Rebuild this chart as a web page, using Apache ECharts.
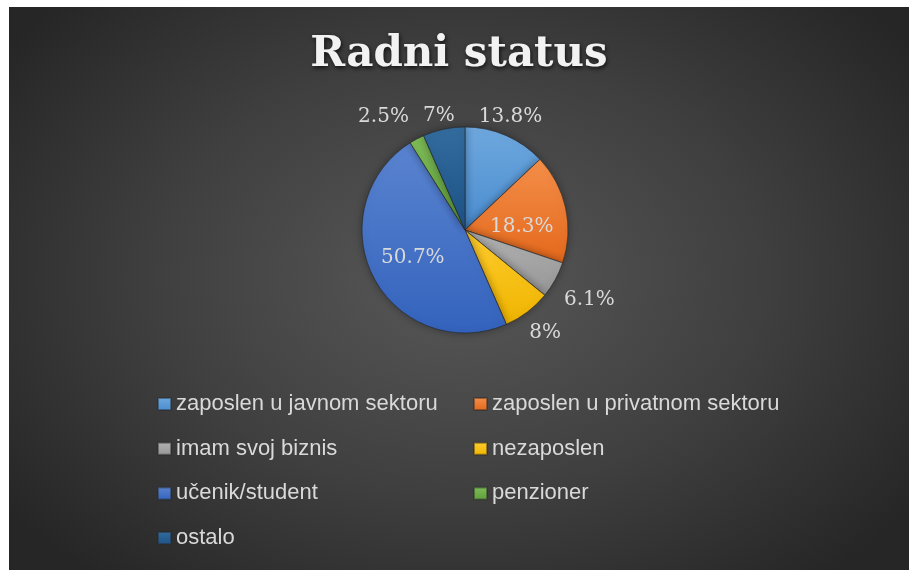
<!DOCTYPE html>
<html>
<head>
<meta charset="utf-8">
<script src="https://cdn.jsdelivr.net/npm/echarts@6/dist/echarts.min.js"></script>
<style>
  html, body { margin: 0; padding: 0; background: #ffffff; }
  #chart {
    position: absolute; left: 9px; top: 7px; width: 900px; height: 563px;
    background: radial-gradient(ellipse 62% 70% at 50% 48%, #585858 0%, #3f3f3f 55%, #262626 100%);
  }
</style>
</head>
<body>
<div id="chart"></div>
<script>
const titleText = 'Radni status';
const categories = [
  'zaposlen u javnom sektoru',
  'zaposlen u privatnom sektoru',
  'imam svoj biznis',
  'nezaposlen',
  'učenik/student',
  'penzioner',
  'ostalo'
];
const values = [13.8, 18.3, 6.1, 8, 50.7, 2.5, 7];

// styling (not data)
const sliceTop = ['#6ea8de', '#f48f4a', '#b3b3b3', '#ffcd2e', '#5a84d0', '#7fbd58', '#336c9e'];
const sliceBottom = ['#4a8ccf', '#e4681c', '#959595', '#efb400', '#3463bd', '#5f9e3a', '#1d5287'];
const insideIdx = [1, 4];
const labelNudge = [[-9, 2], [3.5, 8], [10, 9], [-0.5, 3], [-4, 2], [-18, -3], [4.5, 8]];

const chart = echarts.init(document.getElementById('chart'), null, { renderer: 'canvas' });

const pieData = values.map((v, i) => ({
  name: categories[i],
  value: v,
  itemStyle: {
    color: new echarts.graphic.LinearGradient(0, 0, 0, 1, [
      { offset: 0, color: sliceTop[i] },
      { offset: 1, color: sliceBottom[i] }
    ])
  },
  label: { position: insideIdx.includes(i) ? 'inside' : 'outside' }
}));

const legendText = { color: '#d9d9d9', fontSize: 22, fontFamily: 'Liberation Sans', lineHeight: 24 };
const legendBase = {
  orient: 'vertical',
  top: 385,
  padding: 0,
  itemWidth: 13,
  itemHeight: 12,
  itemGap: 20.7,
  icon: 'rect',
  textStyle: legendText
};

chart.setOption({
  backgroundColor: 'transparent',
  title: {
    text: titleText,
    left: 'center',
    top: 22,
    textStyle: {
      fontFamily: 'DejaVu Serif',
      fontWeight: 'bold',
      fontSize: 42,
      color: '#f2f2f2',
      textShadowColor: 'rgba(0,0,0,0.75)',
      textShadowBlur: 4,
      textShadowOffsetX: 1,
      textShadowOffsetY: 2
    }
  },
  legend: [
    Object.assign({}, legendBase, {
      left: 148,
      data: [categories[0], categories[2], categories[4], categories[6]]
    }),
    Object.assign({}, legendBase, {
      left: 464,
      data: [categories[1], categories[3], categories[5]]
    })
  ],
  series: [{
    type: 'pie',
    center: [456, 223],
    radius: [0, 103],
    startAngle: 90,
    clockwise: true,
    avoidLabelOverlap: false,
    itemStyle: {
      borderColor: 'rgba(40,40,40,0.45)',
      borderWidth: 0.8,
      shadowBlur: 8,
      shadowColor: 'rgba(0,0,0,0.35)'
    },
    label: {
      show: true,
      formatter: '{c}%',
      color: '#d9d9d9',
      fontFamily: 'DejaVu Serif',
      fontSize: 20
    },
    labelLine: { show: false, length: 22, length2: 0 },
    labelLayout: function (p) {
      const n = labelNudge[p.dataIndex];
      return { align: 'center', verticalAlign: 'middle', dx: n[0], dy: n[1] };
    },
    emphasis: { disabled: true },
    data: pieData
  }]
});
</script>
</body>
</html>
